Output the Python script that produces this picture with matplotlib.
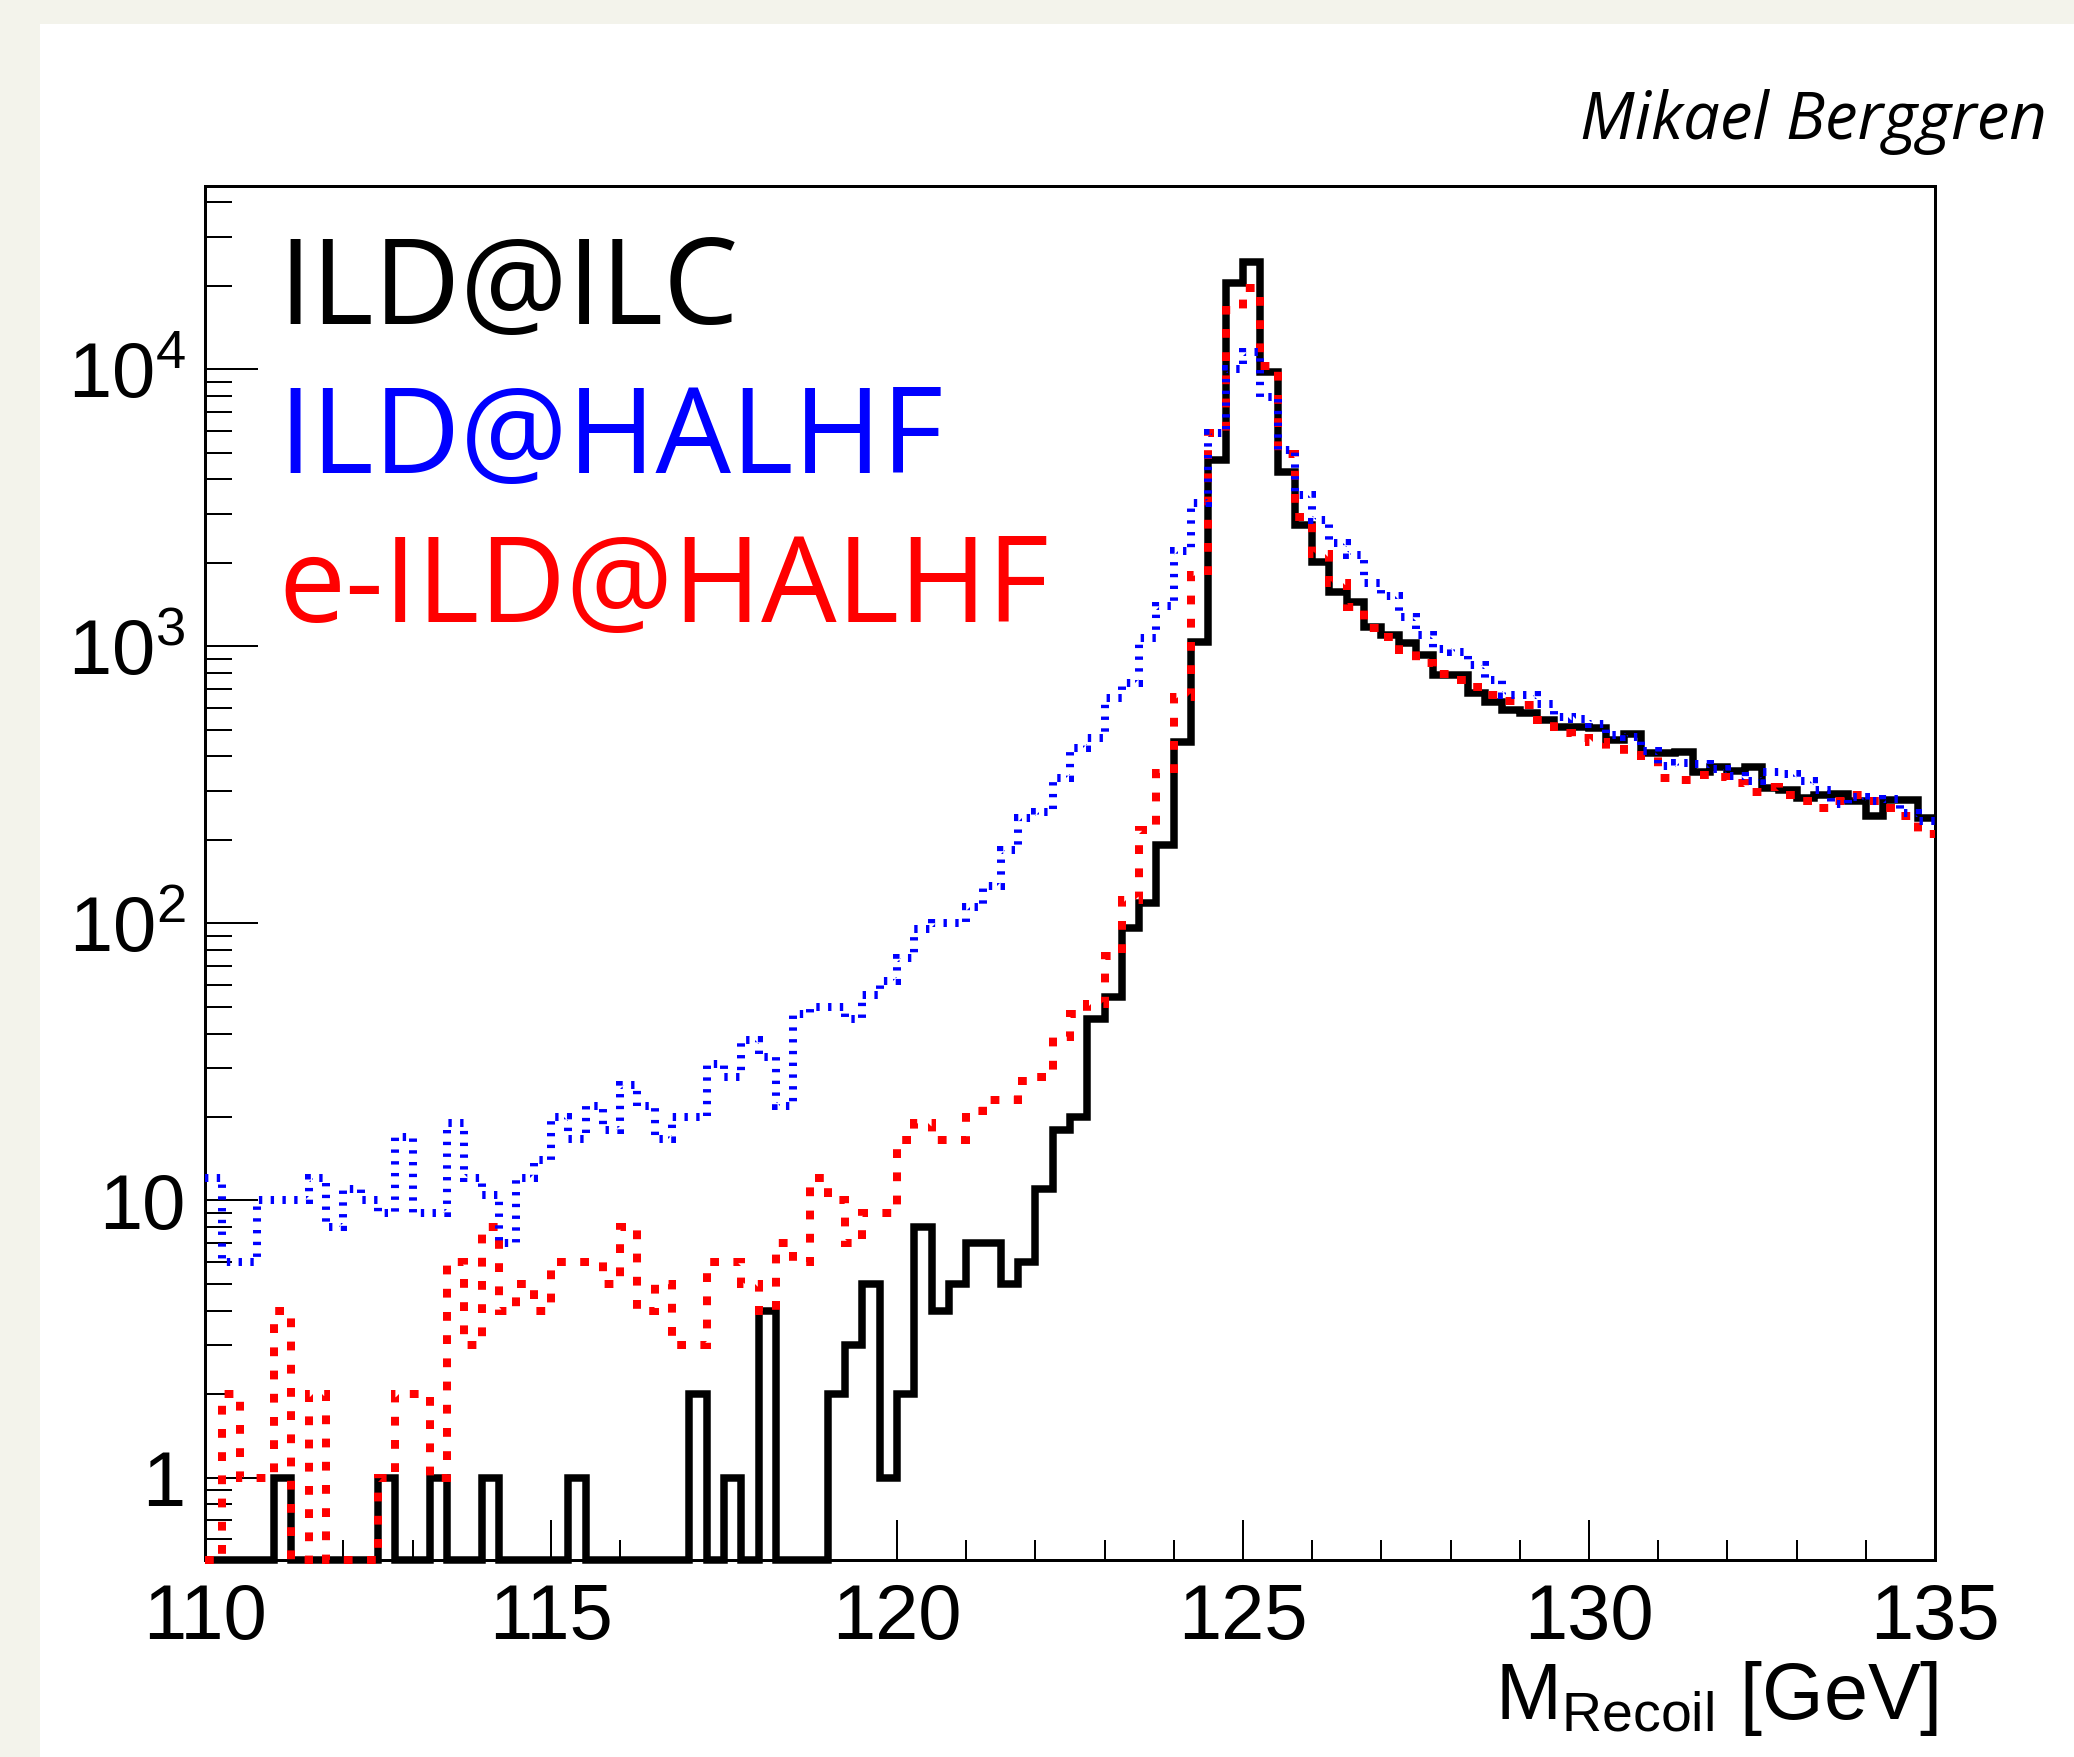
import matplotlib
matplotlib.use("Agg")
import matplotlib.pyplot as plt
from matplotlib.patches import Rectangle
from matplotlib.ticker import FixedLocator, FixedFormatter, LogLocator, MultipleLocator, NullFormatter
import numpy as np


# =========================
# Data (0.25 GeV bins, 110 - 135 GeV)
# =========================

bin_lo, bin_hi, n_bins = 110.0, 135.0, 100

ild_ilc = [
    0, 0, 0, 0, 1, 0, 0, 0, 0, 0,
    1, 0, 0, 1, 0, 0, 1, 0, 0, 0,
    0, 1, 0, 0, 0, 0, 0, 0, 2, 0,
    1, 0, 4, 0, 0, 0, 2, 3, 5, 1,
    2, 8, 4, 5, 7, 7, 5, 6, 11, 18,
    20, 45, 54, 96, 118, 192, 452, 1038, 4700, 20400,
    24400, 9800, 4260, 2740, 2020, 1575, 1450, 1175, 1100, 1025,
    930, 787, 787, 676, 630, 589, 572, 542, 512, 512,
    505, 460, 482, 411, 413, 415, 352, 367, 355, 367,
    307, 303, 284, 290, 294, 276, 243, 279, 279, 240,
]

ild_halhf = [
    12, 6, 6, 10, 10, 10, 12, 8, 11, 10,
    9, 17, 9, 9, 19, 12, 10.5, 7, 12, 14,
    20, 16.6, 22, 18, 26, 22, 16.6, 20, 20, 31,
    28, 38, 33, 22, 47, 50, 50, 45, 55, 62,
    75, 95, 100, 100, 115, 136, 184, 240, 252, 334,
    430, 465, 648, 736, 1070, 1400, 2200, 3300, 5900, 10000,
    11550, 7950, 5100, 3500, 2860, 2350, 2130, 1690, 1520, 1275,
    1100, 980, 950, 855, 755, 667, 667, 620, 557, 545,
    525, 480, 470, 420, 371, 380, 375, 362, 340, 325,
    352, 347, 325, 303, 270, 285, 276, 282, 250, 235,
]

e_ild_halhf = [
    0, 2, 1, 1, 4, 0, 2, 0, 0, 0,
    1, 2, 2, 1, 6, 3, 8, 4, 5, 4,
    6, 6, 6, 5, 8, 4, 5, 3, 3, 6,
    6, 5, 4, 7, 6, 12, 10, 7, 9, 9,
    16.5, 19, 16.5, 16.5, 21, 23, 23, 27, 28, 39,
    47, 51, 76, 121, 217, 348, 657, 1800, 5870, 16300,
    19600, 10300, 4950, 2930, 2160, 1690, 1385, 1160, 1080, 969,
    867, 797, 755, 714, 667, 632, 614, 540, 485, 465,
    450, 424, 405, 400, 334, 330, 342, 338, 320, 299,
    310, 290, 276, 260, 276, 290, 276, 260, 243, 210,
]

legend_labels = ["ILD@ILC", "ILD@HALHF", "e-ILD@HALHF"]
y_tick_values = [1, 10, 100, 1000, 10000]
y_tick_labels = ["1", "10", r"$10^{2}$", r"$10^{3}$", r"$10^{4}$"]


# =========================
# Config
# =========================

W, H = 2074, 1757
PX = 0.72  # points per pixel at dpi 100

Y_MIN, Y_MAX = 0.506, 45800

plt.rcParams["font.family"] = ["Liberation Sans", "DejaVu Sans"]
plt.rcParams["mathtext.fontset"] = "custom"
plt.rcParams["mathtext.rm"] = "Liberation Sans"
plt.rcParams["mathtext.it"] = "Liberation Sans:italic"


# =========================
# Figure
# =========================

fig = plt.figure(figsize=(W / 100, H / 100), dpi=100, facecolor="#f3f3eb")

fig.patches.append(
    Rectangle(
        (40 / W, 0), 1 - 40 / W, 1 - 24 / H,
        transform=fig.transFigure,
        facecolor="white",
        edgecolor="none",
        zorder=-10
    )
)

ax = fig.add_axes([205 / W, 1 - 1559.5 / H, 1730 / W, (1559.5 - 186) / H])
ax.set_zorder(1)
ax.patch.set_alpha(0)
ax.set_yscale("log")

edges = np.linspace(bin_lo, bin_hi, n_bins + 1)

ax.stairs(
    np.clip(ild_ilc, Y_MIN, None), edges,
    baseline=None, color="black", lw=7.5 * PX,
    clip_on=False, zorder=3
)

ax.stairs(
    np.clip(e_ild_halhf, Y_MIN, None), edges,
    baseline=None, color="#ff0000", lw=8 * PX,
    linestyle=(0, (1.1, 1.8)),
    clip_on=False, zorder=4
)

ax.stairs(
    np.clip(ild_halhf, Y_MIN, None), edges,
    baseline=None, color="#0000ff", lw=8 * PX,
    linestyle=(0, (0.42, 1.05)),
    clip_on=False, zorder=5
)

ax.set_xlim(bin_lo, bin_hi)
ax.set_ylim(Y_MIN, Y_MAX)

# axes / ticks
for s in ax.spines.values():
    s.set_linewidth(3 * PX)

ax.xaxis.set_major_locator(MultipleLocator(5))
ax.xaxis.set_minor_locator(MultipleLocator(1))
ax.yaxis.set_major_locator(FixedLocator(y_tick_values))
ax.yaxis.set_major_formatter(FixedFormatter(y_tick_labels))
ax.yaxis.set_minor_locator(LogLocator(base=10, subs=np.arange(2, 10)))
ax.yaxis.set_minor_formatter(NullFormatter())

ax.tick_params(axis="x", which="major", direction="in", length=40 * PX,
               width=2 * PX, pad=16, labelsize=56)
ax.tick_params(axis="x", which="minor", direction="in", length=20 * PX,
               width=2 * PX)
ax.tick_params(axis="y", which="major", direction="in", length=53 * PX,
               width=2 * PX, pad=14, labelsize=56)
ax.tick_params(axis="y", which="minor", direction="in", length=27 * PX,
               width=2 * PX)

# axis title
fig.text(1938 / W, 1 - 1719 / H, r"M$_{\mathrm{Recoil}}$ [GeV]",
         ha="right", va="baseline", fontsize=57)

# legend as text
legend_colors = ["black", "#0000ff", "#ff0000"]
legend_baselines = [324, 473.5, 621.7]
for label, col, yb in zip(legend_labels, legend_colors, legend_baselines):
    fig.text(278 / W, 1 - yb / H, label, color=col,
             ha="left", va="baseline", fontsize=86, family="Open Sans")

# author
fig.text(2047 / W, 1 - 139 / H, "Mikael Berggren",
         ha="right", va="baseline", fontsize=47,
         family="Open Sans", style="italic")

fig.savefig("out.png", dpi=100, facecolor=fig.get_facecolor())
